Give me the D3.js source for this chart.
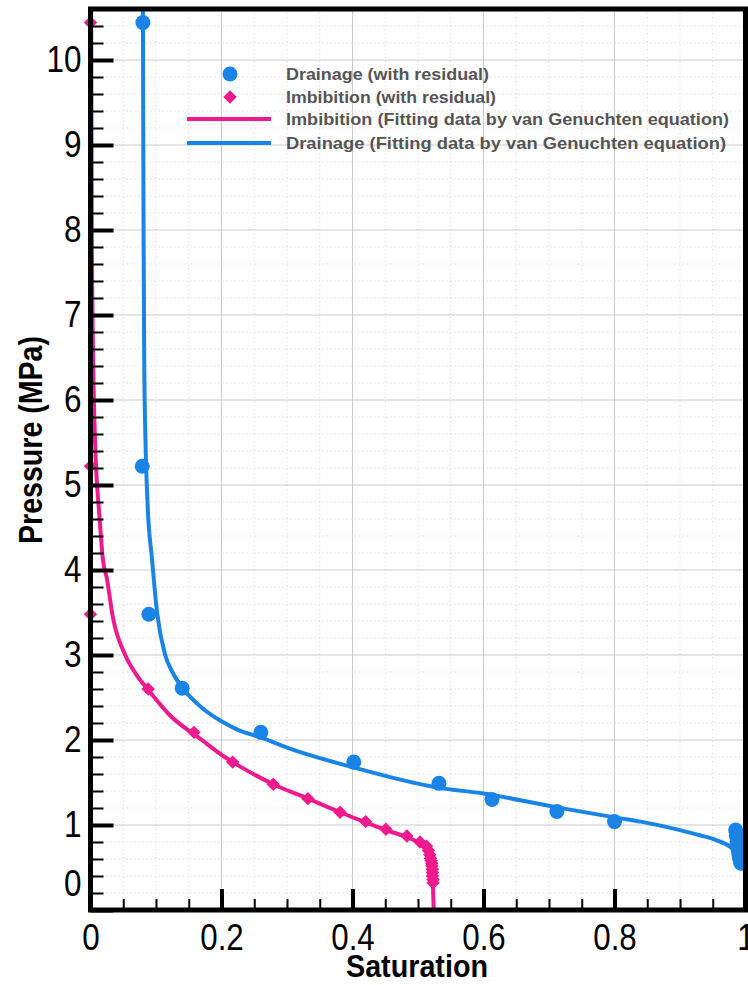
<!DOCTYPE html>
<html>
<head>
<meta charset="utf-8">
<title>Capillary pressure - saturation</title>
<script src="https://d3js.org/d3.v7.min.js"></script>
<style>
  html, body { margin: 0; padding: 0; background: #fff; }
  svg { display: block; }
</style>
</head>
<body>
<div id="chart"></div>
<script>
// axis ticks
var xTicks = [0, 0.2, 0.4, 0.6, 0.8, 1];
var xTickLabels = ["0", "0.2", "0.4", "0.6", "0.8", "1"];
var yTicks = [0, 1, 2, 3, 4, 5, 6, 7, 8, 9, 10];
var yTickLabels = ["0", "1", "2", "3", "4", "5", "6", "7", "8", "9", "10"];

// measured points (with residual)
var drainSat = [0.080, 0.079, 0.089, 0.140, 0.260, 0.402, 0.532, 0.613, 0.712, 0.800,
                0.985, 0.986, 0.987, 0.988, 0.989, 0.990, 0.991, 0.992, 0.993];
var drainP   = [10.44, 5.22, 3.48, 2.61, 2.09, 1.74, 1.49, 1.30, 1.16, 1.04,
                0.94, 0.87, 0.80, 0.75, 0.70, 0.65, 0.61, 0.58, 0.55];
var imbSat = [0, 0, 0, 0.088, 0.158, 0.217, 0.279, 0.332, 0.381, 0.420, 0.451, 0.483,
              0.503, 0.513, 0.516, 0.518, 0.519, 0.520, 0.521, 0.521, 0.522, 0.522, 0.522, 0.523, 0.523];
var imbP   = [10.44, 5.22, 3.48, 2.60, 2.09, 1.74, 1.48, 1.31, 1.15, 1.04, 0.95, 0.87,
              0.80, 0.75, 0.70, 0.65, 0.61, 0.58, 0.55, 0.52, 0.48, 0.44, 0.40, 0.36, 0.32];

// fitted curves (van Genuchten)
var drainFitSat = [0.080, 0.081, 0.082, 0.084, 0.087, 0.094, 0.102, 0.114, 0.125, 0.144, 0.170,
                   0.200, 0.225, 0.260, 0.300, 0.400, 0.530, 0.600, 0.710, 0.800, 0.840, 0.900,
                   0.930, 0.956, 0.977, 0.990, 1.000];
var drainFitP   = [10.6, 8.0, 6.5, 5.5, 4.8, 4.12, 3.48, 3.0, 2.8, 2.58, 2.38,
                   2.22, 2.12, 2.03, 1.91, 1.68, 1.44, 1.37, 1.21, 1.09, 1.04, 0.94,
                   0.88, 0.82, 0.74, 0.63, 0.45];
var imbFitSat = [0.001, 0.002, 0.004, 0.007, 0.010, 0.013, 0.019, 0.025, 0.034, 0.053, 0.070,
                 0.088, 0.120, 0.170, 0.205, 0.228, 0.279, 0.332, 0.381, 0.420, 0.451, 0.483,
                 0.503, 0.513, 0.518, 0.521, 0.523, 0.524];
var imbFitP   = [10.6, 8.0, 6.5, 5.5, 5.0, 4.7, 4.12, 3.9, 3.45, 3.0, 2.77,
                 2.59, 2.3, 2.0, 1.80, 1.69, 1.48, 1.31, 1.15, 1.03, 0.94, 0.855,
                 0.78, 0.70, 0.60, 0.45, 0.25, 0];

var legendLabels = ["Drainage (with residual)", "Imbibition (with residual)",
                    "Imbibition (Fitting data by van Genuchten equation)",
                    "Drainage (Fitting data by van Genuchten equation)"];

var blue = "#1a84e6", pink = "#ee1a8e";
var sans = "'Liberation Sans', Arial, Helvetica, sans-serif";

var w = 748, h = 985;
var x = d3.scaleLinear().domain([0, 1]).range([90.5, 745.5]);
var y = d3.scaleLinear().domain([0, 10.6]).range([910, 9]);

var svg = d3.select("#chart").append("svg").attr("width", w).attr("height", h);
svg.append("rect").attr("width", w).attr("height", h).attr("fill", "#fff");

svg.append("clipPath").attr("id", "plot")
   .append("rect").attr("x", x(0)).attr("y", y(10.6))
   .attr("width", x(1) - x(0)).attr("height", y(0) - y(10.6));

// grid
var xMinor = d3.range(0.05, 1, 0.05).filter(function(v) { return Math.abs(v * 5 - Math.round(v * 5)) > 1e-6; });
var yMinor = d3.range(0.2, 10.6, 0.2).filter(function(v) { return Math.abs(v - Math.round(v)) > 1e-6; });
var grid = svg.append("g");
grid.selectAll(".vx").data(xMinor).enter().append("line")
    .attr("x1", d => x(d)).attr("x2", d => x(d)).attr("y1", y(0)).attr("y2", y(10.6))
    .attr("stroke", "#cfcfcf").attr("stroke-dasharray", "1,3");
grid.selectAll(".hy").data(yMinor).enter().append("line")
    .attr("x1", x(0)).attr("x2", x(1)).attr("y1", d => y(d)).attr("y2", d => y(d))
    .attr("stroke", "#cfcfcf").attr("stroke-dasharray", "1,3");
grid.selectAll(".vX").data(xTicks).enter().append("line")
    .attr("x1", d => x(d)).attr("x2", d => x(d)).attr("y1", y(0)).attr("y2", y(10.6))
    .attr("stroke", "#cbcbcb");
grid.selectAll(".hY").data(yTicks).enter().append("line")
    .attr("x1", x(0)).attr("x2", x(1)).attr("y1", d => y(d)).attr("y2", d => y(d))
    .attr("stroke", "#cbcbcb");

// fitted lines
var line = d3.line().x(d => x(d[0])).y(d => y(d[1])).curve(d3.curveMonotoneX);
var plot = svg.append("g").attr("clip-path", "url(#plot)");
plot.append("path").datum(d3.zip(drainFitSat, drainFitP))
    .attr("d", line).attr("fill", "none").attr("stroke", blue).attr("stroke-width", 4);
plot.append("path").datum(d3.zip(imbFitSat, imbFitP))
    .attr("d", line).attr("fill", "none").attr("stroke", pink).attr("stroke-width", 4);

// markers
plot.selectAll(".drain").data(d3.zip(drainSat, drainP)).enter().append("circle")
    .attr("cx", d => x(d[0])).attr("cy", d => y(d[1])).attr("r", 7.5).attr("fill", blue);
var diamond = d3.symbol().type(d3.symbolDiamond2).size(115);
svg.selectAll(".imb").data(d3.zip(imbSat, imbP)).enter().append("path")
    .attr("d", diamond)
    .attr("transform", d => "translate(" + x(d[0]) + "," + y(d[1]) + ")")
    .attr("fill", pink);

// frame
svg.append("rect").attr("x", x(0)).attr("y", y(10.6))
   .attr("width", x(1) - x(0)).attr("height", y(0) - y(10.6))
   .attr("fill", "none").attr("stroke", "#000").attr("stroke-width", 5);

// axes: ticks point inward
var yAxis = svg.append("g").attr("transform", "translate(" + x(0) + ",0)")
    .call(d3.axisLeft(y).tickValues(yTicks).tickFormat((d, i) => yTickLabels[i])
          .tickSizeInner(-23).tickSizeOuter(0).tickPadding(9));
svg.append("g").attr("transform", "translate(" + x(0) + ",0)")
    .call(d3.axisLeft(y).tickValues(yMinor).tickFormat("").tickSizeInner(-13).tickSizeOuter(0))
    .selectAll("line").attr("stroke-width", 2);
var xAxis = svg.append("g").attr("transform", "translate(0," + y(0) + ")")
    .call(d3.axisBottom(x).tickValues(xTicks).tickFormat((d, i) => xTickLabels[i])
          .tickSizeInner(-21).tickSizeOuter(0).tickPadding(14));
svg.append("g").attr("transform", "translate(0," + y(0) + ")")
    .call(d3.axisBottom(x).tickValues(xMinor).tickFormat("").tickSizeInner(-11).tickSizeOuter(0))
    .selectAll("line").attr("stroke-width", 2);
svg.selectAll(".domain").remove();
yAxis.selectAll("line").attr("stroke-width", 4);
xAxis.selectAll("line").attr("stroke-width", 4);
// narrow-looking tick labels: squeeze Arial-metric glyphs
function labelWidth(s) {
    return s.split("").reduce((a, c) => a + (c === "." ? 8.5 : 17.5), 0);
}
[yAxis, xAxis].forEach(function(a) {
    a.selectAll("text").attr("font-family", sans).attr("font-size", 37).attr("fill", "#000")
     .attr("lengthAdjust", "spacingAndGlyphs")
     .attr("textLength", function() { return labelWidth(this.textContent); });
});
// the 0 label on the pressure axis sits above the corner
yAxis.selectAll("text").filter(d => d === 0).attr("dy", "-0.4em");

// axis titles
svg.append("text").attr("x", 417).attr("y", 977).attr("text-anchor", "middle")
   .attr("font-family", sans).attr("font-weight", "bold").attr("font-size", 31)
   .attr("textLength", 142).attr("lengthAdjust", "spacingAndGlyphs")
   .text("Saturation");
svg.append("text").attr("transform", "translate(42,440) rotate(-90)").attr("text-anchor", "middle")
   .attr("font-family", sans).attr("font-weight", "bold").attr("font-size", 34)
   .attr("textLength", 208).attr("lengthAdjust", "spacingAndGlyphs")
   .text("Pressure (MPa)");

// legend
var legY = [74, 97, 119, 143];
var legLen = [203, 210, 443, 440];
var leg = svg.append("g");
leg.append("circle").attr("cx", 230).attr("cy", legY[0]).attr("r", 7.5).attr("fill", blue);
leg.append("path").attr("d", diamond).attr("transform", "translate(230," + legY[1] + ")").attr("fill", pink);
leg.append("line").attr("x1", 187).attr("x2", 271).attr("y1", legY[2]).attr("y2", legY[2])
   .attr("stroke", pink).attr("stroke-width", 4);
leg.append("line").attr("x1", 187).attr("x2", 271).attr("y1", legY[3]).attr("y2", legY[3])
   .attr("stroke", blue).attr("stroke-width", 4);
leg.selectAll(".lt").data(legendLabels).enter().append("text")
   .attr("x", 286).attr("y", (d, i) => legY[i]).attr("dy", "0.36em")
   .attr("font-family", sans).attr("font-weight", "bold")
   .attr("font-size", 17).attr("fill", "#555")
   .attr("textLength", (d, i) => legLen[i]).attr("lengthAdjust", "spacingAndGlyphs")
   .text(d => d);
</script>
</body>
</html>
